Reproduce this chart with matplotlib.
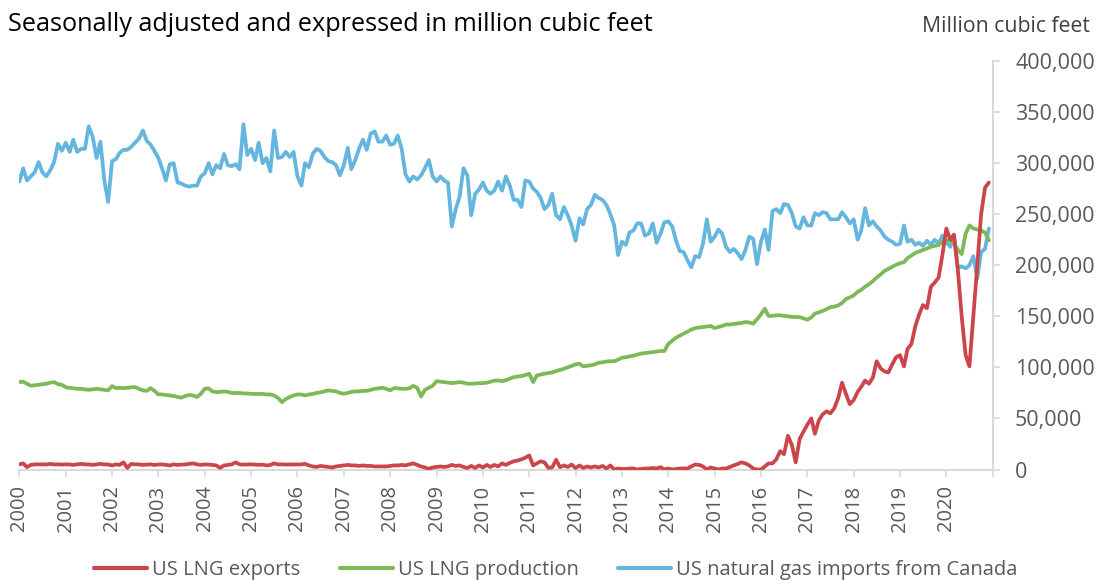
import matplotlib
matplotlib.use("Agg")
import matplotlib.pyplot as plt
import pandas as pd

# ---- data (thousand million cubic feet, monthly Jan 2000 - Dec 2020) ----
lng_exports = [
    5, 6, 2.3, 4.5, 5, 5, 4.9, 5, 5.5, 5, 5, 4.8,
    5, 4.9, 4.5, 5, 5.5, 5, 5, 4.5, 5, 5.5, 5, 4.9,
    4, 5, 4.5, 7, 1.6, 5.5, 5, 5, 4.5, 4.8, 5, 4.5,
    4.9, 5, 4.5, 4, 5, 4.5, 4.8, 5, 5.5, 6, 5, 4.5,
    5, 4.8, 4.5, 4, 1.6, 4, 4.5, 5, 7, 5, 4.8, 4.9,
    5, 4.8, 4.5, 4.8, 4, 4.5, 6, 5, 5, 4.8, 5, 4.9,
    5, 5, 5.5, 4, 3, 2.5, 3.5, 3, 2.5, 2, 3, 3.5,
    4, 4.5, 4, 4, 3.5, 4, 3.5, 3.5, 3, 3, 3, 3,
    3.5, 4, 4, 4.5, 4, 5, 6, 4.5, 3, 2, 0.7, 2,
    2.5, 3, 2.5, 3, 4.5, 3.5, 4, 2.5, 1.5, 3.5, 1.5, 4,
    2, 4.5, 2.5, 4.5, 3, 6, 4.5, 6.5, 8, 8.8, 10, 11.5,
    13.7, 4, 6, 8, 7, 1.6, 2, 9.5, 2.3, 4, 2.5, 4.9,
    1.5, 4, 1.6, 3, 2, 3, 2, 3.5, 1, 4, 0, 1,
    0.5, 0.5, 1, 1, 0, 0.5, 1, 1, 1.5, 1, 2.3, 0,
    1, 0, 0.5, 1, 1, 1, 3, 4.9, 4.5, 3, 0, 2,
    1, 0, 1, 1, 2.5, 4, 5.5, 7, 6, 4, 1, 0,
    0, 3, 6, 6, 10, 18, 15, 33, 24, 7, 30, 37,
    44, 50, 35, 48, 54, 57, 55, 60, 70, 85, 74, 64,
    68, 76, 81, 87, 84, 90, 106, 99, 96, 95, 103, 110,
    112, 101, 118, 123, 140, 152, 161, 158, 179, 183, 188, 210,
    236, 225, 230, 195, 150, 112, 101, 150, 200, 250, 276, 281,
]

lng_production = [
    85.6, 86, 84, 82, 82.5, 83, 83.5, 84, 85, 85.6, 83.5, 83,
    80.5, 80, 79.5, 79, 79, 78.5, 78, 78.5, 79, 78.5, 78, 77.5,
    81.7, 79.7, 80, 79.7, 80, 80.5, 80.7, 79, 77.5, 77, 79.7, 77,
    73.5, 73.5, 73, 72.5, 72, 71, 70.3, 72, 73, 72.5, 71, 74,
    79, 79.5, 76.5, 75.8, 76, 76.5, 76, 75, 74.8, 75, 74.5, 74.5,
    74, 74, 74, 74, 73.5, 73.5, 72.5, 70, 66, 69, 71, 72.5,
    73.5, 73.5, 72.5, 73.5, 74, 75, 75.5, 76.5, 77.5, 77, 76.5, 75,
    74.2, 75, 76, 76.5, 76.5, 77, 77, 78, 79, 79.5, 80, 79,
    77.5, 79.7, 79.5, 79, 79, 79.5, 82, 80, 71.5, 78, 80, 82,
    86.5, 86, 85.6, 85, 84.6, 85, 85.6, 85, 84, 84, 84.3, 84.5,
    84.6, 85, 86, 87, 87.2, 86.5, 87.5, 89, 90.5, 91, 91.5, 92.5,
    93.8, 85.6, 92, 93, 93.8, 94.5, 95, 96.5, 97.5, 98.7, 100, 101.5,
    103, 103.6, 101, 101.5, 102, 103, 104.6, 105, 105.8, 106, 106, 107.5,
    109.5, 110, 110.7, 111.5, 112.5, 113.5, 114, 114.5, 115, 115.5, 116, 116,
    123, 126, 129, 131, 133, 135, 137, 138.5, 139, 139.5, 140, 140.5,
    138.5, 139.5, 140.5, 142, 142, 142.5, 143, 143.5, 144.4, 144, 142.8, 147,
    152, 157.5, 150.3, 150.5, 151, 151, 150.5, 150, 149.5, 149.3, 149.3, 148,
    146.7, 149, 152.6, 154, 155.2, 157, 159, 159.5, 160.7, 163, 167, 168.5,
    170.5, 174, 176, 179, 181.5, 184.5, 188, 191, 194.5, 196.5, 198.5, 200.5,
    202, 203, 207, 209.5, 212, 213.5, 215, 216.5, 218, 219, 219.6, 223,
    224, 225, 221, 215, 211, 231, 239, 236, 235, 234, 232, 224.5,
]

imports_canada = [
    282, 295, 283, 287, 291, 301, 291, 287, 293, 301, 319, 312,
    320, 311, 323, 311, 314, 314, 336, 326, 305, 321, 283, 262,
    302, 304, 310, 313, 313, 316, 320, 324, 332, 322, 318, 312,
    305, 294, 283, 299, 300, 281, 280, 278, 277, 278, 278, 287,
    290, 300, 289, 298, 295, 309, 298, 297, 299, 294, 338, 308,
    314, 303, 320, 300, 305, 292, 332, 305, 306, 311, 306, 311,
    287, 278, 300, 296, 309, 314, 312, 306, 302, 301, 298, 288,
    298, 315, 294, 303, 314, 323, 313, 329, 331, 321, 321, 327,
    318, 319, 327, 314, 289, 282, 287, 284, 288, 295, 303, 287,
    282, 287, 283, 281, 238, 255, 267, 295, 288, 249, 270, 274,
    281, 273, 270, 273, 282, 273, 287, 278, 264, 264, 257, 283,
    282, 275, 272, 266, 255, 259, 270, 249, 245, 257, 249, 239,
    224, 246, 240, 255, 259, 269, 266, 264, 259, 250, 239, 210,
    223, 220, 232, 234, 241, 241, 229, 231, 241, 222, 231, 242,
    243, 238, 225, 214, 213, 205, 198, 209, 208, 221, 245, 223,
    228, 235, 231, 218, 213, 216, 212, 206, 215, 228, 226, 201,
    223, 235, 215, 253, 255, 251, 260, 259, 251, 238, 236, 247,
    239, 239, 251, 249, 252, 251, 245, 245, 245, 252, 247, 241,
    245, 225, 234, 256, 239, 243, 238, 234, 228, 225, 223, 220,
    221, 239, 223, 225, 220, 222, 219, 224, 220, 225, 221, 229,
    223, 218, 229, 197, 199, 197, 200, 209, 187, 213, 216, 236,
]

series_labels = ["US LNG exports", "US LNG production",
                 "US natural gas imports from Canada"]
series_colors = ["#CC454B", "#7EB957", "#64B6DE"]
year_labels = [str(y) for y in range(2000, 2021)]
y_ticks = [0, 50000, 100000, 150000, 200000, 250000, 300000, 350000, 400000]

months = pd.date_range("2000-01-01", periods=len(imports_canada), freq="MS")

FONT = ["Open Sans", "DejaVu Sans"]
plt.rcParams["font.family"] = FONT
GRAY = "#595959"
AXIS = "#D9D9D9"

fig = plt.figure(figsize=(10.97, 5.80), dpi=100)
ax = fig.add_axes([0.0176, 0.1905, 0.8874, 0.7043])

data = [lng_exports, lng_production, imports_canada]
lines = {}
for k in [2, 1, 0]:
    vals = [v * 1000 for v in data[k]]
    ln, = ax.plot(months, vals, color=series_colors[k], lw=2.7,
                  solid_joinstyle="round", solid_capstyle="round",
                  label=series_labels[k], zorder=3 + (k == 0))
    lines[k] = ln

ax.set_ylim(0, 400000)
ax.set_xlim(pd.Timestamp("2000-01-01"), pd.Timestamp("2021-01-01"))

year_ticks = [pd.Timestamp(f"{y}-01-01") for y in range(2000, 2022)]
ax.set_xticks(year_ticks)
ax.set_xticklabels(year_labels + [""], rotation=90, fontsize=14.5, color=GRAY)
ax.tick_params(axis="x", length=5, width=1.2, color=AXIS, pad=6.5)

ax.yaxis.tick_right()
ax.set_yticks(y_ticks)
ax.set_yticklabels([f"{v:,}" for v in y_ticks], fontsize=15.5, color=GRAY)
ax.tick_params(axis="y", length=5, width=1.2, color=AXIS, pad=11)

for s in ["top", "left"]:
    ax.spines[s].set_visible(False)
for s in ["bottom", "right"]:
    ax.spines[s].set_color(AXIS)
    ax.spines[s].set_linewidth(1.4)

fig.text(0.007, 0.957, "Seasonally adjusted and expressed in million cubic feet",
         fontsize=18.2, color="#000000", ha="left", va="center")
fig.text(0.994, 0.955, "Million cubic feet", fontsize=15.3, color="#404040",
         ha="right", va="center")

handles = [lines[0], lines[1], lines[2]]
leg = fig.legend(handles, series_labels, loc="center", ncol=3,
                 bbox_to_anchor=(0.5068, 0.0172), frameon=False,
                 fontsize=14.5, handlelength=2.64, handletextpad=0.25,
                 columnspacing=1.95, borderpad=0)
for t in leg.get_texts():
    t.set_color(GRAY)
for h in leg.get_lines():
    h.set_linewidth(3.0)

fig.savefig("out.png", dpi=100)
